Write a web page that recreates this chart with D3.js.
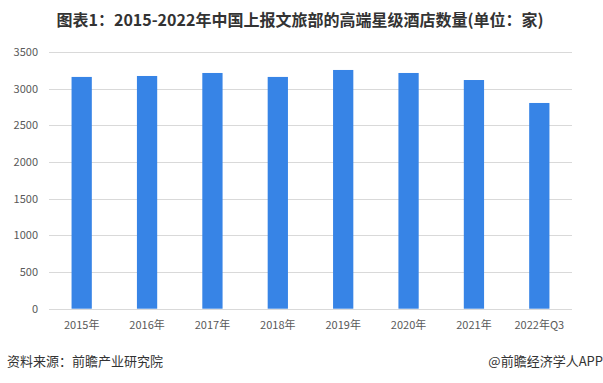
<!DOCTYPE html>
<html>
<head>
<meta charset="utf-8">
<script src="https://cdn.jsdelivr.net/npm/d3@7"></script>
<style>
  body { margin: 0; background: #fff; }
  text { font-family: "Microsoft YaHei", "Noto Sans CJK SC", sans-serif; }
</style>
</head>
<body>
<svg id="chart"></svg>
<script>
const width = 603;
const height = 383;

const categories = ["2015年", "2016年", "2017年", "2018年", "2019年", "2020年", "2021年", "2022年Q3"];
const values = [3160, 3173, 3214, 3160, 3255, 3214, 3118, 2805];
const yTicks = [0, 500, 1000, 1500, 2000, 2500, 3000, 3500];

const margin = { top: 52, right: 31, bottom: 74, left: 49 };

const svg = d3.select("#chart")
  .attr("width", width)
  .attr("height", height);

// title
svg.append("text")
  .attr("x", 300)
  .attr("y", 26)
  .attr("text-anchor", "middle")
  .attr("font-size", 16)
  .attr("font-weight", "bold")
  .attr("fill", "#333")
  .text("图表1：2015-2022年中国上报文旅部的高端星级酒店数量(单位：家)");

const x = d3.scaleBand()
  .domain(categories)
  .range([margin.left, width - margin.right])
  .paddingInner(0.69)
  .paddingOuter(0.345);

const y = d3.scaleLinear()
  .domain([0, 3500])
  .range([height - margin.bottom - 0.3, margin.top]);

// gridlines
svg.append("g")
  .selectAll("line")
  .data(yTicks)
  .join("line")
  .attr("x1", margin.left)
  .attr("x2", width - margin.right)
  .attr("y1", d => Math.round(y(d)) + 0.5)
  .attr("y2", d => Math.round(y(d)) + 0.5)
  .attr("stroke", "#d9d9d9")
  .attr("stroke-width", 1);

// y labels
svg.append("g")
  .selectAll("text")
  .data(yTicks)
  .join("text")
  .attr("x", 38)
  .attr("y", d => y(d))
  .attr("dy", "0.35em")
  .attr("text-anchor", "end")
  .attr("font-size", 11)
  .attr("fill", "#595959")
  .text(d => d);

// bars
svg.append("g")
  .selectAll("rect")
  .data(values)
  .join("rect")
  .attr("x", (d, i) => x(categories[i]))
  .attr("y", d => y(d))
  .attr("width", x.bandwidth())
  .attr("height", d => y(0) - y(d))
  .attr("fill", "#3784e6");

// x labels
svg.append("g")
  .selectAll("text")
  .data(categories)
  .join("text")
  .attr("x", d => x(d) + x.bandwidth() / 2)
  .attr("y", 329)
  .attr("text-anchor", "middle")
  .attr("font-size", 11)
  .attr("fill", "#595959")
  .text(d => d);

// footer
svg.append("text")
  .attr("x", 7)
  .attr("y", 366)
  .attr("font-size", 13)
  .attr("fill", "#333")
  .text("资料来源：前瞻产业研究院");

svg.append("text")
  .attr("x", 603)
  .attr("y", 366)
  .attr("text-anchor", "end")
  .attr("font-size", 13)
  .attr("fill", "#333")
  .text("@前瞻经济学人APP");
</script>
</body>
</html>
